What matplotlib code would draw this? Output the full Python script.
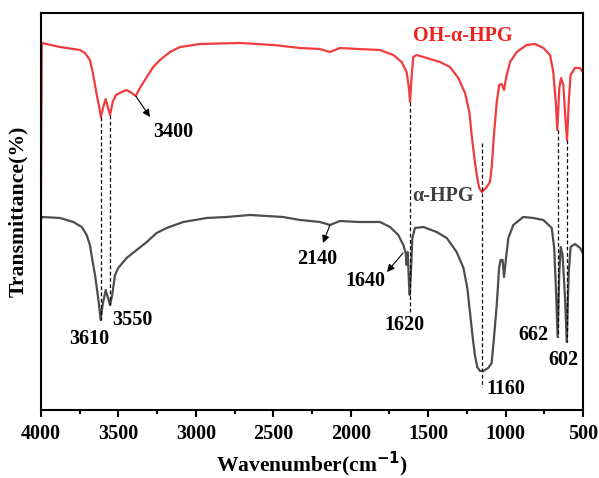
import numpy as np
import matplotlib.pyplot as plt

plt.rcParams['font.family'] = ['Liberation Serif', 'DejaVu Serif']
plt.rcParams['font.weight'] = 'bold'

# OH-alpha-HPG (red), wavenumber in cm-1, transmittance in arbitrary units
wn_oh = [4000, 3995, 3877, 3791, 3748, 3716, 3684, 3666, 3651, 3636, 3624, 3613, 3598,
         3582, 3569, 3554, 3537, 3516, 3479, 3447, 3414, 3388, 3361, 3317, 3275, 3232,
         3167, 3102, 2973, 2715, 2500, 2327, 2200, 2134, 2070, 1950, 1811, 1725, 1671,
         1639, 1624, 1617, 1606, 1596, 1574, 1509, 1423, 1359, 1305, 1262, 1234, 1219,
         1198, 1183, 1170, 1154, 1126, 1101, 1090, 1075, 1057, 1041, 1025, 1010, 997,
         971, 928, 864, 810, 756, 713, 692, 676, 666, 653, 642, 627, 614, 603, 592, 580,
         552, 519, 498]
t_oh = [209, 367, 363, 361, 360, 357, 350, 338, 325, 312, 303, 293, 303,
        311, 303, 295, 308, 315, 318, 320, 317, 314, 322, 333, 343, 350,
        358, 363, 366, 367, 365, 362, 361, 358, 362, 361, 360, 355, 348,
        338, 322, 308, 335, 353, 355, 352, 348, 343, 332, 317, 298, 275,
        248, 232, 222, 218, 222, 228, 242, 275, 308, 325, 326, 320, 332,
        348, 358, 365, 366, 362, 355, 338, 308, 280, 322, 332, 325, 292, 270, 308, 335,
        342, 342, 337]

# alpha-HPG (gray)
wn_a = [4000, 3995, 3877, 3791, 3737, 3705, 3684, 3666, 3651, 3636, 3625, 3615, 3602,
        3582, 3569, 3554, 3540, 3522, 3501, 3447, 3382, 3317, 3253, 3188, 3081, 2930,
        2801, 2650, 2437, 2327, 2198, 2134, 2070, 1950, 1811, 1746, 1693, 1660, 1645,
        1639, 1632, 1624, 1619, 1611, 1602, 1585, 1531, 1445, 1380, 1316, 1272, 1247,
        1230, 1212, 1198, 1183, 1165, 1144, 1112, 1090, 1075, 1057, 1042, 1032, 1019,
        1010, 997, 982, 950, 886, 821, 756, 702, 686, 675, 664, 653, 644, 632, 616,
        605, 592, 580, 552, 519, 498]
t_a = [190, 193, 192, 188, 183, 175, 165, 148, 135, 118, 105, 90, 105,
       120, 113, 105, 115, 135, 142, 152, 160, 168, 177, 182, 188, 192,
       193, 195, 193, 190, 188, 185, 189, 188, 188, 183, 175, 165, 157,
       145, 158, 128, 115, 138, 172, 182, 183, 178, 172, 158, 142, 122,
       98, 72, 55, 43, 39, 39, 42, 47, 72, 105, 142, 150, 150,
       133, 152, 172, 185, 193, 192, 190, 182, 162, 122, 73, 138, 163, 155, 112,
       68, 138, 163, 166, 162, 156]

# dashed guide lines: wavenumber, top, bottom
guide_wn = [3613, 3554, 1619, 1155, 664, 605]
guide_top = [293, 295, 308, 267, 280, 270]
guide_bot = [90, 105, 98, 23, 73, 68]

# peak labels
peak_text = ['3610', '3550', '1620', '1160', '662', '602']
peak_wn = [3690, 3412, 1656, 997, 823, 629]
peak_t = [71, 90, 85, 21, 75, 50]

fig = plt.figure(figsize=(5.99, 4.78), dpi=100)
ax = fig.add_axes([0.0684, 0.1423, 0.9049, 0.8305])

ax.plot(wn_oh, t_oh, color='#F03C3C', lw=1.6)
ax.plot(wn_a, t_a, color='#4D4D4D', lw=1.6)

for w, t1, t2 in zip(guide_wn, guide_top, guide_bot):
    ax.plot([w, w], [t1, t2], color='black', ls=(0, (3, 2)), lw=0.9)

for s, w, t in zip(peak_text, peak_wn, peak_t):
    ax.text(w, t, s, fontsize=14.5, fontweight='bold', ha='center', va='center')

arrow = dict(arrowstyle='-|>', color='black', lw=0.8, mutation_scale=11,
             shrinkA=0, shrinkB=0)
ax.annotate('', xy=(3296, 293), xytext=(3388, 314), arrowprops=arrow)
ax.text(3148, 278, '3400', fontsize=14.5, fontweight='bold', ha='center', va='center')
ax.annotate('', xy=(2179, 167), xytext=(2134, 185), arrowprops=arrow)
ax.text(2218, 151, '2140', fontsize=14.5, fontweight='bold', ha='center', va='center')
ax.annotate('', xy=(1766, 138), xytext=(1662, 157), arrowprops=arrow)
ax.text(1908, 129, '1640', fontsize=14.5, fontweight='bold', ha='center', va='center')

ax.text(1275, 374, 'OH-α-HPG', color='#F02020', fontsize=14.5, fontweight='bold',
        ha='center', va='center')
ax.text(1404, 214, 'α-HPG', color='#404040', fontsize=14.5, fontweight='bold',
        ha='center', va='center')

ax.set_xlim(4000, 500)
ax.set_ylim(0, 397)
ax.set_yticks([])
ax.set_xticks([4000, 3500, 3000, 2500, 2000, 1500, 1000, 500])
ax.set_xticks(np.arange(750, 4000, 500), minor=True)
ax.tick_params(axis='x', which='major', length=5, width=1.5, labelsize=14.5, pad=5)
ax.tick_params(axis='x', which='minor', length=3, width=1.5)
for lab in ax.get_xticklabels():
    lab.set_fontweight('bold')
for sp in ax.spines.values():
    sp.set_linewidth(1.5)

ax.set_xlabel('Wavenumber(cm$^{\\mathbf{-1}}$)', fontsize=15.5, fontweight='bold',
              labelpad=4)
ax.set_ylabel('Transmittance(%)', fontsize=15.7, fontweight='bold', labelpad=9)

fig.savefig('out.png', dpi=100)
